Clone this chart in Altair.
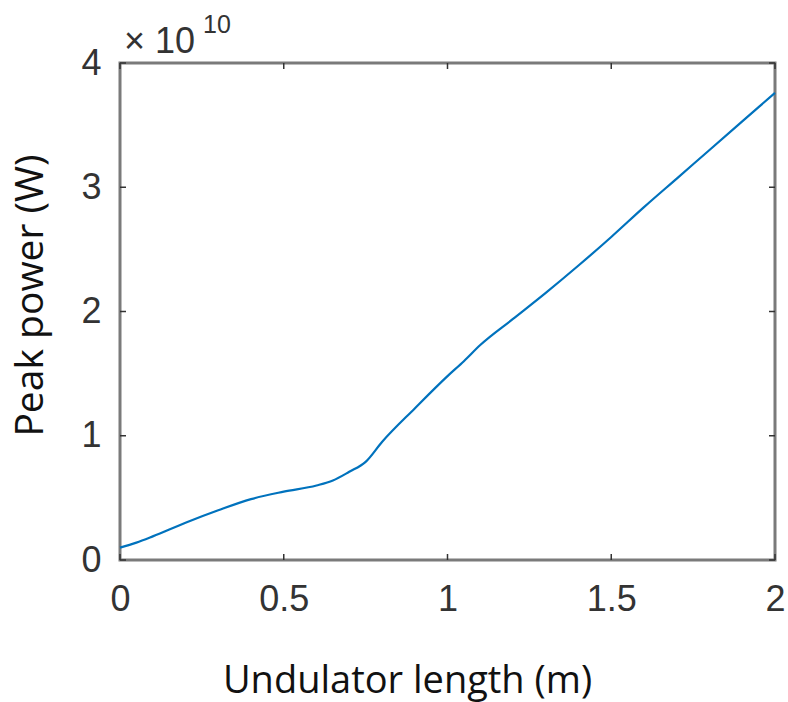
import altair as alt
import pandas as pd

# Data (undulator length in m, peak power in units of 1e10 W)
length_m = [0.0, 0.05, 0.1, 0.2, 0.3, 0.4, 0.5, 0.6, 0.65, 0.7, 0.75, 0.8, 0.9, 1.0, 1.05,
            1.1, 1.2, 1.3, 1.4, 1.5, 1.6, 1.7, 1.8, 1.9, 2.0]
power_e10 = [0.10, 0.14, 0.19, 0.30, 0.40, 0.49, 0.55, 0.60, 0.64, 0.71, 0.79, 0.95, 1.22,
             1.48, 1.60, 1.73, 1.94, 2.15, 2.37, 2.60, 2.84, 3.07, 3.30, 3.53, 3.76]
x_ticks = [0, 0.5, 1, 1.5, 2]
y_ticks = [0, 1, 2, 3, 4]

W, H = 655, 497
TICK_FONT = "Liberation Sans"
TITLE_FONT = "Open Sans"

df = pd.DataFrame({"x": length_m, "y": power_e10})
xt = pd.DataFrame({"t": x_ticks})
yt = pd.DataFrame({"t": y_ticks})

xscale = alt.Scale(domain=[0, 2], nice=False, zero=False)
yscale = alt.Scale(domain=[0, 4], nice=False, zero=False)

line = alt.Chart(df).mark_line(color="#0072BD", strokeWidth=2.2, interpolate="monotone").encode(
    x=alt.X("x:Q", scale=xscale,
            axis=alt.Axis(values=x_ticks, title="Undulator length (m)", grid=False,
                          domain=False, ticks=False, labelFont=TICK_FONT, labelFontSize=36,
                          labelColor="#333333", labelPadding=22, labelFlush=False,
                          titleFont=TITLE_FONT, titleFontSize=38, titleFontWeight="normal",
                          titleColor="#111111", titlePadding=45, titleX=287,
                          labelExpr="format(datum.value, '.2~f')")),
    y=alt.Y("y:Q", scale=yscale,
            axis=alt.Axis(values=y_ticks, title="Peak power (W)", grid=False,
                          domain=False, ticks=False, labelFont=TICK_FONT, labelFontSize=36,
                          labelColor="#333333", labelPadding=19, labelFlush=False,
                          titleFont=TITLE_FONT, titleFontSize=39, titleFontWeight="normal",
                          titleColor="#111111", titlePadding=30, titleY=232,
                          labelExpr="format(datum.value, 'd')")),
)

tick_len = 6
bottom_ticks = alt.Chart(xt).mark_rule(color="#333333", strokeWidth=1.5).encode(
    x=alt.X("t:Q", scale=xscale), y=alt.value(H), y2=alt.value(H - tick_len))
top_ticks = alt.Chart(xt).mark_rule(color="#333333", strokeWidth=1.5).encode(
    x=alt.X("t:Q", scale=xscale), y=alt.value(0), y2=alt.value(tick_len))
left_ticks = alt.Chart(yt).mark_rule(color="#333333", strokeWidth=1.5).encode(
    y=alt.Y("t:Q", scale=yscale), x=alt.value(0), x2=alt.value(tick_len))
right_ticks = alt.Chart(yt).mark_rule(color="#333333", strokeWidth=1.5).encode(
    y=alt.Y("t:Q", scale=yscale), x=alt.value(W), x2=alt.value(W - tick_len))

exp_base = alt.Chart(pd.DataFrame({"s": ["× 10"]})).mark_text(
    font=TICK_FONT, fontSize=36, color="#333333", align="left", baseline="alphabetic"
).encode(text="s:N", x=alt.value(4), y=alt.value(-10))
exp_sup = alt.Chart(pd.DataFrame({"s": ["10"]})).mark_text(
    font=TICK_FONT, fontSize=25, color="#333333", align="left", baseline="alphabetic"
).encode(text="s:N", x=alt.value(83), y=alt.value(-30))

chart = alt.layer(
    line, bottom_ticks, top_ticks, left_ticks, right_ticks, exp_base, exp_sup
).properties(
    width=W, height=H,
    autosize=alt.AutoSizeParams(type="none"),
    padding={"left": 120, "top": 63, "right": 13, "bottom": 142},
).configure(
    background="white"
).configure_view(
    stroke="#7a7a7a", strokeWidth=3
)

chart.save("out.html", embed_options={"renderer": "svg", "actions": False})
